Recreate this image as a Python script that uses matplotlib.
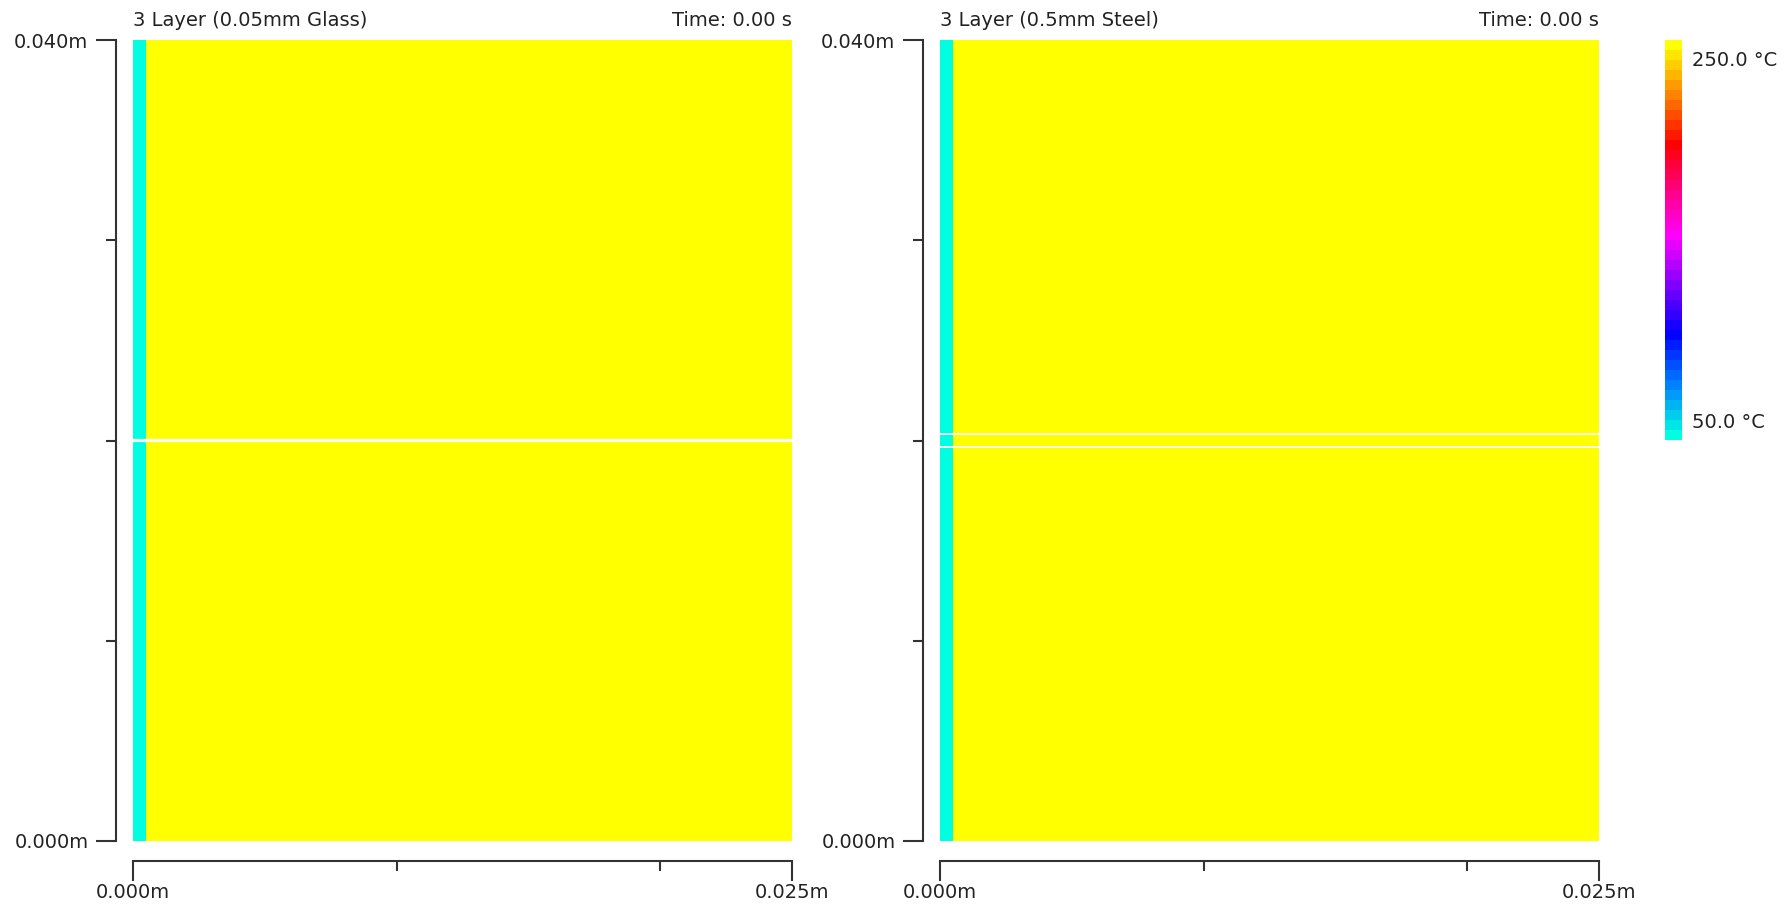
import numpy as np
import matplotlib
matplotlib.use("Agg")
import matplotlib.pyplot as plt
from matplotlib.colors import LinearSegmentedColormap

# Panel data: thin cold strip on the left, hot block elsewhere (deg C)
panel_titles = ["3 Layer (0.05mm Glass)", "3 Layer (0.5mm Steel)"]
time_labels = ["Time: 0.00 s", "Time: 0.00 s"]
x_edges = [0.0, 0.0005, 0.025]          # m
y_edges = [0.0, 0.04]                   # m
cell_temps = [[50.0, 250.0]]            # deg C
layer_bounds = [[0.019975, 0.020025], [0.0197, 0.0203]]   # middle layer limits (m)

t_min, t_max = 50.0, 250.0
cbar_labels = ["250.0 °C", "50.0 °C"]

x_ticks_major = [0.0, 0.025]
x_ticks_minor = [0.01, 0.02]
y_ticks_major = [0.0, 0.04]
y_ticks_minor = [0.01, 0.02, 0.03]

# colour ramp: cyan -> blue -> magenta -> red -> yellow, stepped
ramp = [(0.00, "#00ffe0"), (0.13, "#0080ff"), (0.26, "#0000ff"),
        (0.385, "#8000ff"), (0.51, "#ff00ff"), (0.63, "#ff0080"),
        (0.745, "#ff0000"), (0.87, "#ff8000"), (1.00, "#ffff00")]
cmap = LinearSegmentedColormap.from_list("heat", ramp, N=40)

TXT = "#222222"
AX = "#333333"
plt.rcParams["font.family"] = ["DejaVu Sans"]
plt.rcParams["font.size"] = 14

fig = plt.figure(figsize=(17.84, 9.08), dpi=100)
W, H = 1784, 908

panel_lefts = [133, 940]
for i, px in enumerate(panel_lefts):
    ax = fig.add_axes([px / W, (H - 841) / H, 659 / W, 801 / H])
    mesh = ax.pcolormesh(x_edges, y_edges, np.array(cell_temps), cmap=cmap,
                         vmin=t_min, vmax=t_max, shading="flat")
    for yb in layer_bounds[i]:
        ax.axhline(yb, color="white", lw=1.3 if i == 1 else 1.6)
    ax.set_xlim(0, 0.025)
    ax.set_ylim(0, 0.04)

    for s in ["top", "right"]:
        ax.spines[s].set_visible(False)
    ax.spines["left"].set_position(("outward", 12.2))
    ax.spines["bottom"].set_position(("outward", 14.4))
    for s in ["left", "bottom"]:
        ax.spines[s].set_color(AX)
        ax.spines[s].set_linewidth(1.5)

    ax.set_xticks(x_ticks_major)
    ax.set_xticklabels([f"{v:.3f}m" for v in x_ticks_major])
    ax.set_xticks(x_ticks_minor, minor=True)
    ax.set_yticks(y_ticks_major)
    ax.set_yticklabels([f"{v:.3f}m" for v in y_ticks_major])
    ax.set_yticks(y_ticks_minor, minor=True)
    ax.tick_params(which="major", length=14.4, width=1.5, color=AX,
                   labelcolor=TXT, labelsize=14)
    ax.tick_params(axis="y", which="major", pad=5.5)
    ax.tick_params(axis="x", which="major", pad=1.5)
    ax.tick_params(which="minor", length=7.5, width=1.5, color=AX)

    ax.annotate(panel_titles[i], xy=(0, 1), xycoords="axes fraction",
                xytext=(0, 14.4), textcoords="offset points",
                ha="left", va="center", color=TXT, fontsize=14)
    ax.annotate(time_labels[i], xy=(1, 1), xycoords="axes fraction",
                xytext=(0, 14.4), textcoords="offset points",
                ha="right", va="center", color=TXT, fontsize=14)

# colour bar
cax = fig.add_axes([1665 / W, (H - 440) / H, 17 / W, 400 / H])
cb = fig.colorbar(mesh, cax=cax)
cb.outline.set_visible(False)
cb.set_ticks([])
cax.text(1.0 + 10 / 17, (440 - 60) / 400, cbar_labels[0], transform=cax.transAxes,
         ha="left", va="center", color=TXT, fontsize=14)
cax.text(1.0 + 10 / 17, (440 - 422) / 400, cbar_labels[1], transform=cax.transAxes,
         ha="left", va="center", color=TXT, fontsize=14)

fig.savefig("out.png", dpi=100)
